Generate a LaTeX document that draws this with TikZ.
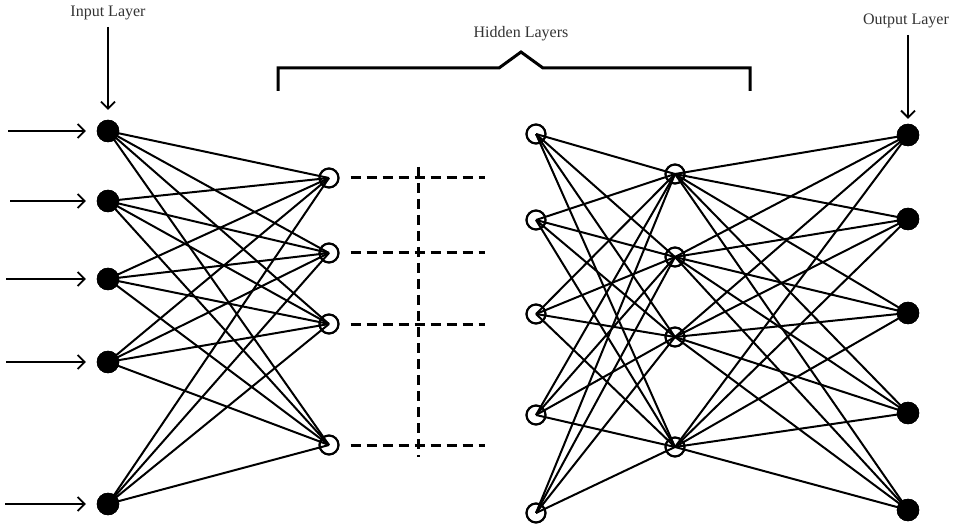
\documentclass[tikz,border=0pt]{standalone}
\usepackage{fontspec}
\setmainfont{Liberation Serif}
\usetikzlibrary{arrows.meta}
\begin{document}
\begin{tikzpicture}[x=1pt,y=-1pt,
  filled/.style={circle,fill=black,draw=black,inner sep=0pt,minimum size=22pt},
  hollow/.style={circle,draw=black,line width=2pt,inner sep=0pt,minimum size=19pt},
  conn/.style={line width=2pt},
  dashline/.style={line width=3pt,dash pattern=on 10pt off 6pt},
  arr/.style={line width=1.8pt,-{Straight Barb[length=7pt,width=14pt,line width=1.8pt]}},
  lbl/.style={font=\fontsize{16}{18}\selectfont,text=black!80,inner sep=0pt}]
\useasboundingbox (0,0) rectangle (953,529);
% input layer
\foreach \i/\y in {1/131,2/201,3/279,4/362,5/504} {\node[filled] (i\i) at (108,\y) {};}
% hidden layer 1
\foreach \i/\y in {1/178,2/253,3/324,4/445} {\node[hollow] (a\i) at (329,\y) {};}
% hidden layer 2
\foreach \i/\y in {1/134,2/220,3/314,4/415,5/513} {\node[hollow] (b\i) at (536,\y) {};}
% hidden layer 3
\foreach \i/\y in {1/174,2/257,3/337,4/447} {\node[hollow] (c\i) at (675,\y) {};}
% output layer
\foreach \i/\y in {1/135,2/219,3/313,4/413,5/510} {\node[filled] (o\i) at (908,\y) {};}
% connections
\foreach \i in {1,...,5} \foreach \j in {1,...,4} {\draw[conn] (i\i.center) -- (a\j.center);}
\foreach \i in {1,...,5} \foreach \j in {1,...,4} {\draw[conn] (b\i.center) -- (c\j.center);}
\foreach \i in {1,...,4} \foreach \j in {1,...,5} {\draw[conn] (c\i.center) -- (o\j.center);}
% redraw nodes on top
\foreach \i/\y in {1/131,2/201,3/279,4/362,5/504} {\node[filled] at (108,\y) {};}
\foreach \i/\y in {1/134,2/220,3/314,4/415,5/513} {\node[hollow] at (536,\y) {};}
\foreach \i/\y in {1/178,2/253,3/324,4/445} {\node[hollow] at (329,\y) {};}
\foreach \i/\y in {1/174,2/257,3/337,4/447} {\node[hollow] at (675,\y) {};}
\foreach \i/\y in {1/135,2/219,3/313,4/413,5/510} {\node[filled] at (908,\y) {};}
% dashed continuation
\foreach \j in {1,...,4} {
  \coordinate (d\j) at (485,0 |- a\j);
  \draw[dashline] ([xshift=11pt]a\j.east) -- (d\j);
}
\coordinate (vt) at (418,167);
\coordinate (vb) at (418,457);
\draw[dashline] (vt) -- (vb);
% input arrows
\foreach \i/\x in {1/8,2/10,3/6,4/6,5/5} {
  \coordinate (s\i) at (\x,0 |- i\i);
  \draw[arr,shorten >=11pt] (s\i) -- (i\i.west);
}
% labels
\node[lbl] (inl) at (108,13) {Input Layer};
\coordinate (inarr) at (108,27);
\draw[arr,shorten >=10pt] (inarr) -- (i1.north);
\node[lbl] (outl) at (906,21) {Output Layer};
\coordinate (outarr) at (908,35);
\draw[arr,shorten >=5pt] (outarr) -- (o1.north);
\node[lbl] (hid) at (521,34) {Hidden Layers};
\coordinate (bl) at (278,91);
\coordinate (br) at (750,91);
\draw[line width=3pt] (bl) -- (278,68) -- (499,68) -- (521,52) -- (543,68) -- (750,68) -- (br);
\end{tikzpicture}
\end{document}
